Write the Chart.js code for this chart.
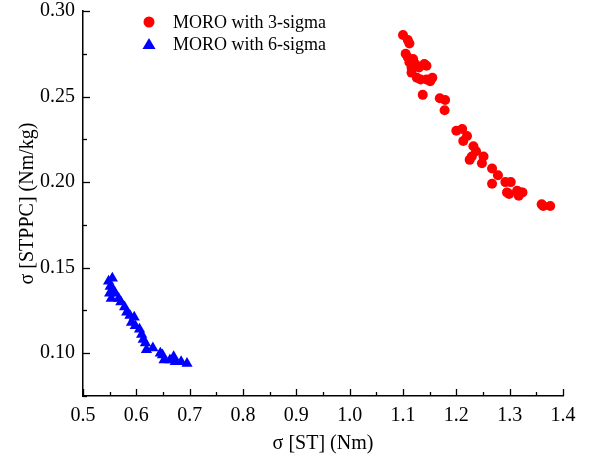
<!DOCTYPE html>
<html>
<head>
<meta charset="utf-8">
<script src="https://cdn.jsdelivr.net/npm/chart.js@4"></script>
<style>
  html, body { margin: 0; padding: 0; background: #fff; }
  #wrap { width: 589px; height: 464px; }
</style>
</head>
<body>
<div id="wrap"><canvas id="myChart" width="589" height="464"></canvas></div>
<script>
// MORO with 3-sigma
var sigma3X = [1.100,1.109,1.112,1.105,1.109,1.119,1.112,1.123,1.116,1.130,1.140,1.144,1.116,1.126,1.133,1.144,1.155,1.151,1.137,1.169,1.179,1.178,1.200,1.211,1.220,1.213,1.232,1.237,1.225,1.229,1.251,1.248,1.267,1.278,1.267,1.292,1.302,1.299,1.295,1.314,1.321,1.317,1.324,1.360,1.363,1.376];
var sigma3Y = [0.286,0.283,0.281,0.275,0.273,0.272,0.270,0.269,0.267,0.267,0.269,0.268,0.264,0.261,0.260,0.260,0.261,0.259,0.251,0.249,0.248,0.242,0.230,0.231,0.227,0.224,0.221,0.218,0.213,0.215,0.215,0.211,0.208,0.204,0.199,0.200,0.200,0.193,0.194,0.195,0.194,0.192,0.194,0.187,0.186,0.186];
// MORO with 6-sigma
var sigma6X = [0.555,0.548,0.551,0.557,0.550,0.560,0.553,0.567,0.571,0.578,0.582,0.588,0.596,0.591,0.598,0.606,0.610,0.613,0.617,0.619,0.631,0.645,0.649,0.652,0.663,0.670,0.673,0.684,0.695];
var sigma6Y = [0.1438,0.142,0.139,0.137,0.135,0.135,0.132,0.132,0.130,0.127,0.124,0.122,0.121,0.118,0.116,0.114,0.111,0.108,0.106,0.102,0.103,0.100,0.099,0.096,0.096,0.098,0.095,0.095,0.094];

var seriesNames = ["MORO with 3-sigma", "MORO with 6-sigma"];
var xTitle = "\u03c3 [ST] (Nm)";
var yTitle = "\u03c3 [STPPC] (Nm/kg)";

function pairs(xs, ys) {
  return xs.map(function (v, i) { return { x: v, y: ys[i] }; });
}

var FONT = "'Liberation Serif', 'Times New Roman', serif";

// ticks pointing inward + legend drawn inside the plot
var innerTicks = {
  id: 'innerTicks',
  afterDraw: function (chart) {
    var ctx = chart.ctx, a = chart.chartArea;
    var xs = chart.scales.x, ys = chart.scales.y;
    ctx.save();
    ctx.strokeStyle = '#000';
    ctx.lineWidth = 1.3;
    xs.ticks.forEach(function (t, i) {
      var px = Math.round(xs.getPixelForValue(t.value)) + 0.5;
      var len = (i % 2 === 0) ? 7 : 4;
      ctx.beginPath();
      ctx.moveTo(px, a.bottom);
      ctx.lineTo(px, a.bottom - len);
      ctx.stroke();
    });
    ys.ticks.forEach(function (t) {
      var py = Math.round(ys.getPixelForValue(t.value)) + 0.5;
      var major = Math.abs(Math.round(t.value / 0.05) * 0.05 - t.value) < 1e-6;
      var len = major ? 7 : 4;
      ctx.beginPath();
      ctx.moveTo(a.left, py);
      ctx.lineTo(a.left + len, py);
      ctx.stroke();
    });

    // legend
    ctx.font = "18px " + FONT;
    ctx.textBaseline = 'middle';
    var ly = [22, 44];
    chart.data.datasets.forEach(function (ds, i) {
      ctx.fillStyle = ds.backgroundColor;
      ctx.beginPath();
      if (ds.pointStyle === 'triangle') {
        ctx.moveTo(149, ly[i] - 6);
        ctx.lineTo(155.5, ly[i] + 5);
        ctx.lineTo(142.5, ly[i] + 5);
        ctx.closePath();
      } else {
        ctx.arc(149, ly[i], 5.5, 0, Math.PI * 2);
      }
      ctx.fill();
      ctx.fillStyle = '#000';
      ctx.fillText(ds.label, 173, ly[i] + 1);
    });
    ctx.restore();
  }
};

var ctx = document.getElementById("myChart");
var myChart = new Chart(ctx, {
  type: 'scatter',
  data: {
    datasets: [{
      label: seriesNames[0],
      data: pairs(sigma3X, sigma3Y),
      pointStyle: 'circle',
      pointRadius: 5,
      backgroundColor: '#ff0000',
      borderColor: '#ff0000',
      borderWidth: 0
    }, {
      label: seriesNames[1],
      data: pairs(sigma6X, sigma6Y),
      pointStyle: 'triangle',
      pointRadius: 6.5,
      backgroundColor: '#0000ff',
      borderColor: '#0000ff',
      borderWidth: 0
    }]
  },
  options: {
    responsive: false,
    animation: false,
    events: [],
    layout: { autoPadding: false, padding: { top: 0, right: 26, left: 0, bottom: 0 } },
    plugins: {
      legend: { display: false },
      tooltip: { enabled: false }
    },
    scales: {
      x: {
        type: 'linear',
        min: 0.5,
        max: 1.4,
        grid: { display: false, drawTicks: false },
        border: { display: true, color: '#000', width: 1.5 },
        afterFit: function (s) { s.height = 68; },
        ticks: {
          stepSize: 0.05,
          padding: 8,
          maxRotation: 0,
          autoSkip: false,
          color: '#000',
          font: { family: FONT, size: 20 },
          callback: function (v, i) { return i % 2 === 0 ? Number(v).toFixed(1) : ''; }
        },
        title: {
          display: true,
          text: xTitle,
          color: '#000',
          font: { family: FONT, size: 20 },
          padding: { top: 4, bottom: 8 }
        }
      },
      y: {
        type: 'linear',
        min: 0.075,
        max: 0.30,
        grid: { display: false, drawTicks: false },
        border: { display: true, color: '#000', width: 1.5 },
        afterFit: function (s) { s.width = 83; s.paddingTop = 11; s.paddingBottom = 0; },
        ticks: {
          stepSize: 0.025,
          padding: 8,
          autoSkip: false,
          color: '#000',
          font: { family: FONT, size: 20 },
          callback: function (v) {
            var m = Math.round(v / 0.05) * 0.05;
            return Math.abs(m - v) < 1e-6 ? Number(v).toFixed(2) : '';
          }
        },
        title: {
          display: true,
          text: yTitle,
          color: '#000',
          font: { family: FONT, size: 20 },
          padding: { top: 16, bottom: 4 }
        }
      }
    }
  },
  plugins: [innerTicks]
});
</script>
</body>
</html>
